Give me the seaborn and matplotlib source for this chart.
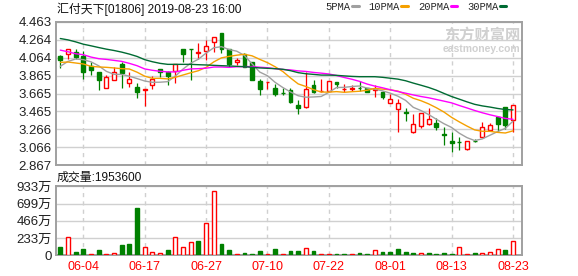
import numpy as np
import pandas as pd
import matplotlib
matplotlib.use("Agg")
import matplotlib.pyplot as plt
import seaborn as sns
from matplotlib.lines import Line2D

# ---------------- data ----------------
dates = ["05-30", "05-31", "06-03", "06-04", "06-05", "06-06", "06-10", "06-11", "06-12", "06-13",
         "06-14", "06-17", "06-18", "06-19", "06-20", "06-21", "06-24", "06-25", "06-26", "06-27",
         "06-28", "07-02", "07-03", "07-04", "07-05", "07-08", "07-09", "07-10", "07-11", "07-12",
         "07-15", "07-16", "07-17", "07-18", "07-19", "07-22", "07-23", "07-24", "07-25", "07-26",
         "07-29", "07-30", "07-31", "08-01", "08-02", "08-05", "08-06", "08-07", "08-08", "08-09",
         "08-12", "08-13", "08-14", "08-15", "08-16", "08-19", "08-20", "08-21", "08-22", "08-23"]

opens = [4.085, 4.103, 4.125, 4.085, 3.974, 3.905, 3.728, 3.816, 3.993, 3.783,
         3.739, 3.706, 3.754, 3.938, 3.905, 3.912, 4.162, 4.160, 4.118, 4.132,
         4.235, 4.334, 4.162, 4.011, 4.103, 4.015, 3.809, 3.789, 3.728, 3.672,
         3.702, 3.541, 3.519, 3.761, 3.688, 3.691, 3.798, 3.712, 3.720, 3.730,
         3.725, 3.703, 3.677, 3.563, 3.497, 3.459, 3.232, 3.306, 3.324, 3.342,
         3.210, 3.133, 3.128, 3.049, 3.142, 3.178, 3.262, 3.405, 3.515, 3.368]
highs = [4.090, 4.158, 4.158, 4.132, 4.011, 3.905, 3.868, 3.956, 4.011, 3.905,
         3.783, 3.714, 3.857, 3.938, 3.912, 3.993, 4.162, 4.160, 4.224, 4.261,
         4.290, 4.340, 4.162, 4.059, 4.114, 4.015, 3.827, 3.793, 3.776, 3.728,
         3.728, 3.589, 3.905, 3.820, 3.827, 3.805, 3.798, 3.776, 3.765, 3.802,
         3.728, 3.754, 3.691, 3.655, 3.600, 3.508, 3.442, 3.445, 3.508, 3.390,
         3.298, 3.232, 3.177, 3.135, 3.160, 3.350, 3.335, 3.416, 3.515, 3.533]
lows = [3.949, 4.048, 4.048, 3.827, 3.875, 3.702, 3.728, 3.816, 3.725, 3.736,
        3.614, 3.526, 3.717, 3.849, 3.761, 3.783, 4.011, 3.813, 4.048, 4.033,
        4.121, 4.110, 3.956, 3.985, 3.956, 3.813, 3.647, 3.710, 3.636, 3.647,
        3.563, 3.434, 3.500, 3.666, 3.680, 3.684, 3.728, 3.680, 3.691, 3.691,
        3.680, 3.629, 3.600, 3.563, 3.232, 3.361, 3.221, 3.284, 3.313, 3.262,
        3.093, 3.013, 3.039, 3.041, 3.128, 3.178, 3.262, 3.232, 3.269, 3.232]
closes = [4.033, 4.158, 4.070, 3.901, 3.923, 3.813, 3.849, 3.905, 3.894, 3.827,
          3.680, 3.714, 3.831, 3.901, 3.857, 3.993, 4.103, 4.155, 4.124, 4.195,
          4.290, 4.162, 3.996, 4.033, 3.956, 3.820, 3.710, 3.793, 3.665, 3.669,
          3.574, 3.500, 3.710, 3.680, 3.695, 3.805, 3.768, 3.718, 3.728, 3.724,
          3.685, 3.710, 3.625, 3.600, 3.556, 3.452, 3.324, 3.445, 3.379, 3.295,
          3.203, 3.115, 3.125, 3.135, 3.132, 3.295, 3.320, 3.328, 3.313, 3.533]
prev_close = 4.060

volumes = [112, 243, 45, 85, 18, 72, 15, 31, 139, 153,
           640, 108, 40, 31, 72, 243, 108, 175, 193, 432,
           865, 153, 72, 18, 31, 18, 58, 18, 85, 18,
           58, 58, 94, 58, 18, 18, 18, 18, 18, 31,
           18, 67, 45, 45, 85, 45, 31, 31, 31, 18,
           31, 18, 108, 18, 31, 31, 45, 81, 72, 195.36]  # 万

ma5_lead = [3.967, 4.022, 4.048, 4.041]
ma10_lead = [4.011, 4.015, 4.004, 3.993, 3.967, 3.960, 3.956, 3.949, 3.941]
ma20_lead = [4.147, 4.129, 4.107, 4.096, 4.070, 4.052, 4.044, 4.033, 4.022, 4.000,
             3.974, 3.938, 3.923, 3.912, 3.905, 3.905, 3.923, 3.938, 3.941]
ma30_lead = [4.276, 4.261, 4.239, 4.213, 4.195, 4.176, 4.158, 4.143, 4.125, 4.103,
             4.077, 4.041, 4.018, 4.000, 3.989, 3.989, 3.989, 3.989, 3.985, 3.982,
             3.978, 3.974, 3.971, 3.967, 3.963, 3.956, 3.949, 3.945, 3.941]

price_tick_labels = ["2.867", "3.066", "3.266", "3.465", "3.665", "3.865", "4.064", "4.264", "4.463"]
vol_tick_labels = ["0", "233万", "466万", "699万", "933万"]
date_tick_labels = ["06-04", "06-17", "06-27", "07-10", "07-22", "08-01", "08-13", "08-23"]
ma_names = ["5PMA", "10PMA", "20PMA", "30PMA"]
title_text = "汇付天下[01806] 2019-08-23 16:00"
vol_title = "成交量:1953600"
watermark_cn = "东方财富网"
watermark_en = "eastmoney.com"

# ---------------- build table ----------------
n = len(dates)
df = pd.DataFrame({"x": np.arange(n), "date": dates, "open": opens, "high": highs,
                   "low": lows, "close": closes, "vol": volumes})
for w, lead in [(5, ma5_lead), (10, ma10_lead), (20, ma20_lead), (30, ma30_lead)]:
    roll = df["close"].rolling(w).mean().to_numpy()
    roll[:len(lead)] = lead
    df[f"{w}PMA"] = roll

RED = "#FF0000"
GREEN = "#008000"
ma_colors = ["#A0A0A0", "#F5A000", "#FF00FF", "#006B33"]
GRID = "#D0D0D0"
BORDER = "#A0A0A0"

sns.set_style("white")
plt.rcParams["font.family"] = ["Liberation Sans", "Noto Sans CJK SC", "DejaVu Sans"]

fig = plt.figure(figsize=(5.78, 2.76), dpi=100)
W, H = 578.0, 276.0
L, R = 56.0, 522.0
ax = fig.add_axes([L / W, 1 - 165.3 / H, (R - L) / W, (165.3 - 21.7) / H])
axv = fig.add_axes([L / W, 1 - 255.3 / H, (R - L) / W, (255.3 - 186.3) / H])

x = df["x"].to_numpy()
o = df["open"].to_numpy()
c = df["close"].to_numpy()
up = c > o
cand_col = np.where(up, RED, GREEN)

# wicks
ax.vlines(x, df["low"], df["high"], colors=cand_col, lw=0.9, zorder=2)
# bodies
ax.bar(x, np.maximum(np.abs(c - o), 0.001), bottom=np.minimum(o, c), width=0.5,
       color=np.where(up, "white", GREEN), edgecolor=cand_col, linewidth=1.0, zorder=3)

# moving averages
for name, col in zip(ma_names, ma_colors):
    sns.lineplot(data=df, x="x", y=name, color=col, lw=1.0, ax=ax, zorder=4, legend=False)

xlim = (-0.56, n - 1 + 1.17)
ax.set_xlim(*xlim)
ax.set_ylim(2.867, 4.463)
ax.set_yticks(np.linspace(2.867, 4.463, len(price_tick_labels)))
ax.set_yticklabels(price_tick_labels, fontsize=9.5, color="#222222")
tick_pos = [dates.index(d) for d in date_tick_labels]
ax.set_xticks(tick_pos)
ax.set_xticklabels([])
ax.set_xlabel("")
ax.set_ylabel("")
ax.tick_params(length=0, pad=3)
ax.grid(axis="y", color=GRID, lw=1.0, ls="-", zorder=0)
ax.grid(axis="x", color=GRID, lw=1.0, ls=(0, (3, 3)), zorder=0)
ax.set_axisbelow(True)

# legend (text first, line after)
handles = [Line2D([0], [0], color=col, lw=2.2) for col in ma_colors]
ax.legend(handles, ma_names, loc="lower right", bbox_to_anchor=(0.975, 1.04), ncol=4,
          markerfirst=False, frameon=False, handlelength=0.6, handletextpad=0.15,
          columnspacing=0.95, borderaxespad=0,
          prop={"family": "Liberation Mono", "size": 7.6})

# watermark
ax.text(0.997, 0.965, watermark_cn, transform=ax.transAxes, ha="right", va="top",
        fontsize=11, fontweight="bold", color="#D0D0D0", family=["Noto Sans CJK SC"], zorder=1)
ax.text(0.997, 0.845, watermark_en, transform=ax.transAxes, ha="right", va="top",
        fontsize=7.5, fontweight="bold", color="#D0D0D0", zorder=1)

# volume
prev = np.concatenate([[prev_close], c[:-1]])
vup = c > prev
vcol = np.where(vup, RED, GREEN)
axv.bar(x, df["vol"], width=0.5, color=np.where(vup, "white", GREEN), edgecolor=vcol,
        linewidth=1.0, zorder=3)
axv.set_xlim(*xlim)
axv.set_ylim(0, 933)
axv.set_yticks(np.linspace(0, 933, len(vol_tick_labels)))
axv.set_yticklabels(vol_tick_labels, fontsize=9.5, color="#222222")
axv.set_xticks(tick_pos)
axv.set_xticklabels(date_tick_labels, fontsize=9, color=RED)
axv.tick_params(length=0, pad=3)
axv.tick_params(axis="x", pad=4)
axv.grid(axis="y", color=GRID, lw=1.0, ls="-", zorder=0)
axv.grid(axis="x", color=GRID, lw=1.0, ls=(0, (3, 3)), zorder=0)
axv.set_axisbelow(True)

for a in (ax, axv):
    for s in a.spines.values():
        s.set_color(BORDER)
        s.set_linewidth(1.4)
        s.set_visible(True)

fig.text(57 / W, 1 - 9 / H, title_text, ha="left", va="center", fontsize=8.6, color="#111111")
fig.text(57 / W, 1 - 178 / H, vol_title, ha="left", va="center", fontsize=8.6, color="#111111")

fig.savefig("out.png", dpi=100, facecolor="white")
